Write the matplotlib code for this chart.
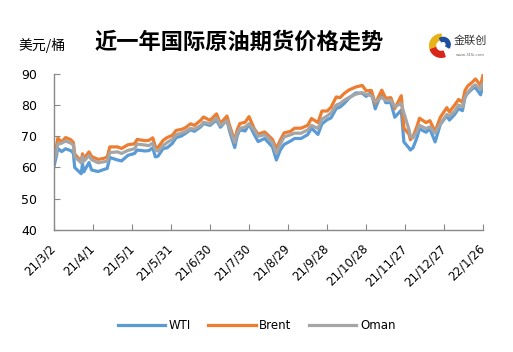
import matplotlib
matplotlib.use("Agg")
import matplotlib.pyplot as plt
from matplotlib.patches import Wedge
import pandas as pd

plt.rcParams['font.family'] = ['Noto Sans CJK SC', 'DejaVu Sans']

dates = ["2021-03-02", "2021-03-04", "2021-03-05", "2021-03-08", "2021-03-11", "2021-03-15",
         "2021-03-17", "2021-03-18", "2021-03-23", "2021-03-24", "2021-03-25", "2021-03-29",
         "2021-03-31", "2021-04-05", "2021-04-09", "2021-04-12", "2021-04-14", "2021-04-20",
         "2021-04-23", "2021-04-28", "2021-05-03", "2021-05-05", "2021-05-11", "2021-05-14",
         "2021-05-17", "2021-05-19", "2021-05-21", "2021-05-25", "2021-05-28", "2021-06-01",
         "2021-06-04", "2021-06-08", "2021-06-11", "2021-06-15", "2021-06-18", "2021-06-23",
         "2021-06-25", "2021-06-30", "2021-07-05", "2021-07-08", "2021-07-13", "2021-07-15",
         "2021-07-19", "2021-07-21", "2021-07-23", "2021-07-27", "2021-07-30", "2021-08-03",
         "2021-08-06", "2021-08-11", "2021-08-13", "2021-08-17", "2021-08-20", "2021-08-23",
         "2021-08-26", "2021-08-31", "2021-09-03", "2021-09-08", "2021-09-13", "2021-09-16",
         "2021-09-21", "2021-09-24", "2021-09-28", "2021-10-01", "2021-10-05", "2021-10-08",
         "2021-10-11", "2021-10-15", "2021-10-20", "2021-10-25", "2021-10-28", "2021-11-01",
         "2021-11-04", "2021-11-09", "2021-11-12", "2021-11-16", "2021-11-19", "2021-11-24",
         "2021-11-26", "2021-11-30", "2021-12-01", "2021-12-03", "2021-12-06", "2021-12-08",
         "2021-12-13", "2021-12-16", "2021-12-20", "2021-12-24", "2021-12-29", "2021-12-31",
         "2022-01-04", "2022-01-07", "2022-01-10", "2022-01-12", "2022-01-14", "2022-01-18",
         "2022-01-20", "2022-01-24", "2022-01-25", "2022-01-26"]

brent = [63.5, 66.7, 69.4, 68.2, 69.6, 68.9,
         68.0, 64.3, 62.0, 64.4, 62.8, 65.0,
         63.5, 62.6, 62.9, 63.3, 66.6, 66.6,
         66.1, 67.3, 67.6, 69.0, 68.6, 68.7,
         69.5, 66.7, 66.4, 68.7, 69.6, 70.3,
         71.9, 72.2, 72.7, 74.0, 73.5, 75.2,
         76.2, 75.1, 77.2, 74.1, 76.5, 73.5,
         68.6, 72.2, 74.1, 74.5, 76.3, 72.4,
         70.7, 71.4, 70.6, 69.0, 66.0, 68.8,
         71.1, 71.6, 72.6, 72.6, 73.5, 75.7,
         74.4, 78.1, 78.1, 79.3, 82.6, 82.4,
         83.7, 84.9, 85.8, 86.3, 84.6, 84.7,
         80.5, 84.8, 82.2, 82.4, 78.9, 83.0,
         72.7, 70.6, 68.9, 69.9, 73.1, 75.8,
         74.4, 75.0, 71.5, 76.1, 79.2, 77.8,
         80.0, 81.8, 80.9, 84.7, 86.1, 87.5,
         88.4, 86.3, 88.2, 89.9]

wti = [60.2, 63.8, 66.1, 65.1, 66.0, 65.4,
       64.6, 60.0, 58.0, 61.2, 58.6, 61.6,
       59.2, 58.7, 59.3, 59.7, 63.2, 62.4,
       62.1, 63.9, 64.5, 65.6, 65.3, 65.4,
       66.3, 63.4, 63.6, 66.1, 66.3, 67.7,
       69.6, 70.1, 70.9, 72.1, 71.6, 73.1,
       74.1, 73.5, 75.2, 72.9, 75.3, 71.7,
       66.4, 70.3, 72.1, 71.7, 73.9, 70.6,
       68.3, 69.3, 68.4, 66.6, 62.4, 65.6,
       67.4, 68.5, 69.3, 69.3, 70.5, 72.6,
       70.6, 74.0, 75.3, 75.9, 78.9, 79.4,
       80.5, 82.3, 83.9, 83.8, 82.8, 84.1,
       78.8, 84.2, 80.8, 80.8, 76.1, 78.4,
       68.2, 66.2, 65.6, 66.3, 69.5, 72.4,
       71.3, 72.4, 68.2, 73.8, 76.6, 75.2,
       77.0, 78.9, 78.2, 82.6, 83.8, 85.4,
       85.6, 83.3, 85.6, 84.8]

oman = [62.0, 65.0, 67.5, 67.8, 68.5, 67.8,
        67.2, 63.5, 61.5, 63.5, 62.0, 63.8,
        62.5, 61.5, 61.8, 62.0, 64.8, 65.0,
        64.5, 65.5, 66.0, 67.5, 67.2, 67.0,
        67.8, 65.5, 65.3, 67.0, 68.0, 69.0,
        70.5, 71.0, 71.5, 72.5, 72.3, 73.5,
        74.5, 74.0, 75.8, 73.5, 75.0, 72.5,
        68.0, 71.0, 72.5, 73.0, 74.0, 72.0,
        70.0, 70.5, 69.8, 68.0, 64.5, 67.5,
        69.8, 70.5, 71.0, 71.0, 72.0, 73.5,
        72.5, 75.5, 76.5, 77.5, 80.0, 80.5,
        81.5, 82.5, 83.5, 84.0, 83.5, 83.0,
        81.0, 82.5, 81.5, 81.5, 79.5, 80.5,
        77.5, 72.0, 70.0, 69.5, 71.5, 73.5,
        72.5, 73.0, 71.0, 74.0, 77.0, 76.5,
        78.0, 80.0, 79.5, 82.5, 84.0, 86.0,
        86.5, 85.0, 86.5, 87.0]

tick_dates = ["2021-03-02", "2021-04-01", "2021-05-01", "2021-05-31", "2021-06-30", "2021-07-30",
              "2021-08-29", "2021-09-28", "2021-10-28", "2021-11-27", "2021-12-27", "2022-01-26"]
tick_labels = ["21/3/2", "21/4/1", "21/5/1", "21/5/31", "21/6/30", "21/7/30",
               "21/8/29", "21/9/28", "21/10/28", "21/11/27", "21/12/27", "22/1/26"]

series_names = ["WTI", "Brent", "Oman"]
colors = ["#5B9BD5", "#ED7D31", "#A5A5A5"]

x = pd.to_datetime(dates)
tx = pd.to_datetime(tick_dates)

fig = plt.figure(figsize=(5.13, 3.52), dpi=100)
ax = fig.add_axes([0.105, 0.347, 0.837, 0.443])

for name, vals, c in zip(series_names, [wti, brent, oman], colors):
    ax.plot(x, vals, color=c, lw=2.3, label=name, solid_joinstyle='round')

ax.set_xlim(tx[0], tx[-1])
ax.set_ylim(40, 90)
ax.set_yticks(range(40, 91, 10))
ax.set_xticks(tx)
ax.set_xticklabels(tick_labels, rotation=45, ha='right', va='center',
                   rotation_mode='anchor', fontsize=8.5, family='DejaVu Sans')
ax.tick_params(axis='x', direction='in', length=4, color='#888888', pad=12)
ax.tick_params(axis='y', direction='in', length=4, color='#888888', labelsize=9, pad=12)
for lbl in ax.get_yticklabels():
    lbl.set_family('DejaVu Sans')
for s in ['top', 'right']:
    ax.spines[s].set_visible(False)
for s in ['left', 'bottom']:
    ax.spines[s].set_color('#888888')
    ax.spines[s].set_linewidth(1.0)

fig.text(0.466, 0.88, "近一年国际原油期货价格走势", ha='center', va='center',
         fontsize=16, fontweight='bold')
fig.text(0.035, 0.87, "美元/桶", ha='left', va='center', fontsize=10)

# logo
fig.text(0.885, 0.885, "金联创", ha='left', va='center', fontsize=8, color='#333333')
fig.text(0.888, 0.845, "www.315i.com", ha='left', va='center', fontsize=3, color='#666666')
logo = fig.add_axes([0.835, 0.83, 0.05, 0.08])
logo.set_xlim(-1, 1); logo.set_ylim(-1, 1); logo.axis('off'); logo.set_aspect('equal')
logo.add_patch(Wedge((0, 0), 0.9, 90, 200, width=0.45, color='#E8B21B'))
logo.add_patch(Wedge((0, 0), 0.9, 200, 290, width=0.45, color='#D8261C'))
logo.add_patch(Wedge((0.15, 0.1), 0.55, -30, 120, width=0.3, color='#1F4E9E'))

fig.legend(loc='center', bbox_to_anchor=(0.5, 0.075), ncol=3, frameon=False,
           handlelength=4.0, columnspacing=1.5, handletextpad=0.3,
           prop={'family': 'DejaVu Sans', 'size': 8.5})

fig.savefig("out.png", dpi=100)
